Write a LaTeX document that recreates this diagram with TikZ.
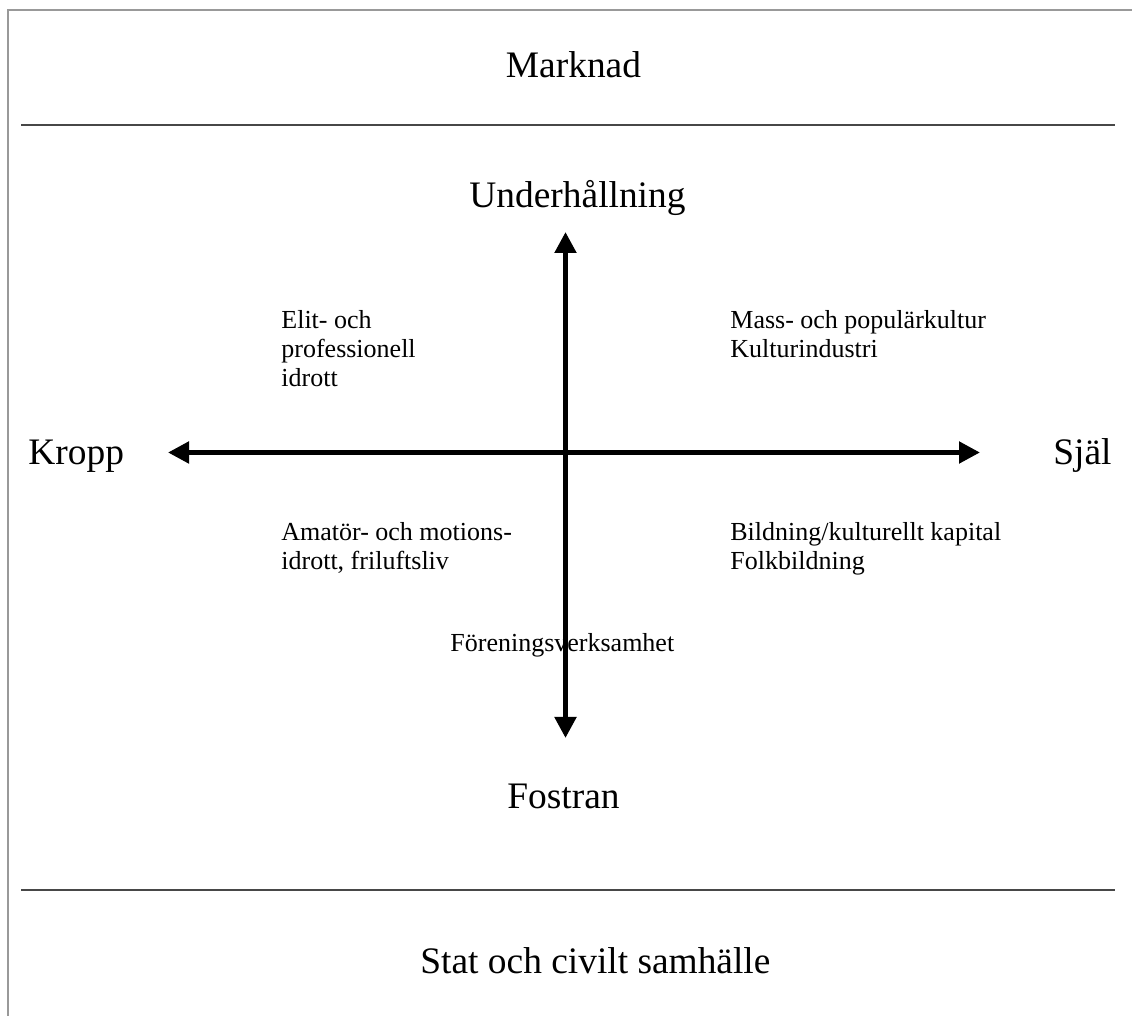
\documentclass[tikz,border=0pt]{standalone}
\usepackage{fontspec}
\setmainfont{Liberation Serif}
\usetikzlibrary{arrows.meta,positioning}

\tikzset{
  big/.style={font=\fontsize{18.7}{22}\selectfont, inner sep=0pt},
  small/.style={font=\fontsize{13}{14.5}\selectfont, inner sep=0pt, align=left, anchor=base west},
  axis/.style={line width=2.5pt, {Triangle[length=10.5pt,width=10.5pt]}-{Triangle[length=10.5pt,width=10.5pt]}},
  rule/.style={black!72, line width=1pt}
}

\begin{document}
\begin{tikzpicture}[x=0.5pt,y=-0.5pt]
\useasboundingbox (0,0) rectangle (1132,1016);
\fill[white] (0,0) rectangle (1132,1016);
% frame
\draw[gray!80, line width=0.8pt] (8,1016)--(8,10)--(1132,10);
% separators
\coordinate (r1a) at (21,125);
\coordinate (r1b) at (1115,125);
\coordinate (r2a) at (21,890);
\coordinate (r2b) at (1115,890);
\draw[rule] (r1a)--(r1b);
\draw[rule] (r2a)--(r2b);
% big labels
\node[big,anchor=base] (marknad) at (573.5,78) {Marknad};
\node[big,anchor=base] (underh) at (577.5,208) {Underhållning};
\node[big,anchor=base west] (kropp) at (28,465) {Kropp};
\node[big,anchor=base west] (sjal) at (1053,465) {Själ};
\node[big,anchor=base] (fostran) at (563.5,808) {Fostran};
\node[big,anchor=base west] (stat) at (420,973) {Stat och civilt samhälle};
% axes
\coordinate (top) at (565.5,232);
\coordinate (bottom) at (565.5,738);
\coordinate (left) at (168,452.5);
\coordinate (right) at (980,452.5);
\draw[axis] (left)--(right);
\draw[axis] (top)--(bottom);
% quadrants (base = last line)
\node[small] (elit) at (281,387) {Elit- och\\professionell\\idrott};
\node[small] (mass) at (730,358) {Mass- och populärkultur\\Kulturindustri};
\node[small] (amator) at (281,570) {Amatör- och motions-\\idrott, friluftsliv};
\node[small] (bildning) at (730,570) {Bildning/kulturellt kapital\\Folkbildning};
\node[small] (forening) at (450,652) {Föreningsverksamhet};
\end{tikzpicture}
\end{document}
